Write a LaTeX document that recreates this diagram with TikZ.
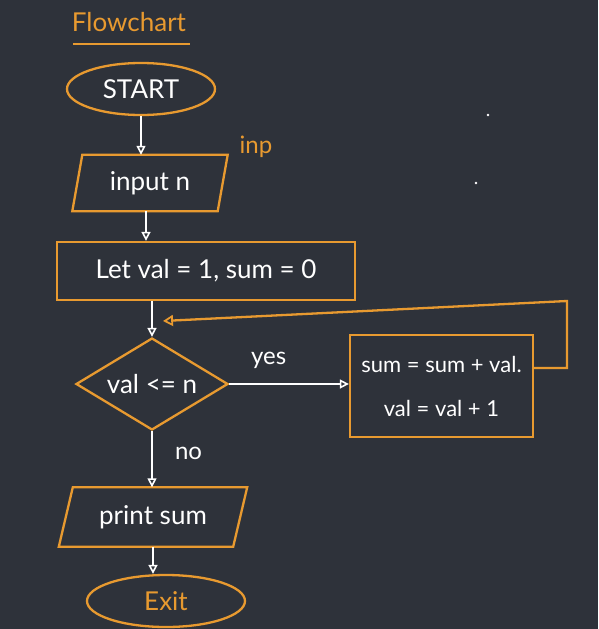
\documentclass[tikz,border=0pt]{standalone}
\usepackage{fontspec}
\setmainfont{Lato}
\usetikzlibrary{shapes.geometric,arrows.meta,calc}
\definecolor{bg}{HTML}{2E323A}
\definecolor{org}{HTML}{E89A30}
\tikzset{
  shp/.style={draw=org, line width=2.3pt, text=white, font=\fontsize{26}{30}\selectfont, inner sep=0pt},
  plain/.style={inner sep=0pt, text=white, font=\fontsize{26}{30}\selectfont},
  conn/.style={draw=white, line width=2pt, -{Triangle[open,length=9pt,width=9pt,line width=1.6pt]}},
  loopconn/.style={draw=org, line width=2.3pt, -{Triangle[open,length=10pt,width=11pt,line width=1.8pt]}},
  lbl/.style={text=white, font=\fontsize{24}{28}\selectfont, inner sep=0pt},
}
\begin{document}
\begin{tikzpicture}[x=1pt,y=-1pt]
\fill[bg] (0,0) rectangle (598,629);
\useasboundingbox (0,0) rectangle (598,629);
% title
\node[text=org, font=\fontsize{26}{30}\selectfont, inner sep=0pt] (title) at (129,22) {Flowchart};
\draw[org, line width=2pt] (73,44) -- (190,44);
% stray dots
\fill[white] (488,115) circle (1.3);
\fill[white] (476,183) circle (1.3);
% nodes
\node[shp, ellipse, minimum width=148, minimum height=52] (start) at (141,89) {START};
\node[plain, minimum width=145, minimum height=56] (inp) at (150,183) {input n};
\draw[org, line width=2.3pt] ($(inp.south west)+(-5,0)$) -- ($(inp.north west)+(5,0)$) -- ($(inp.north east)+(5,0)$) -- ($(inp.south east)+(-5,0)$) -- cycle;
\node[text=org, font=\fontsize{24}{28}\selectfont, inner sep=0pt] (inplbl) at (256,147) {inp};
\node[shp, rectangle, minimum width=298, minimum height=58] (let) at (206,271) {Let val = 1, sum = 0};
\node[shp, diamond, aspect=1.6, minimum width=152, minimum height=92] (dia) at (152,384) {val <= n};
\node[shp, rectangle, minimum width=183, minimum height=102, align=center, font=\fontsize{22}{26}\selectfont] (box) at (441.5,386) {sum = sum + val.\\[18pt]val = val + 1};
\node[plain, minimum width=174, minimum height=59] (prt) at (153,517) {print sum};
\draw[org, line width=2.3pt] ($(prt.south west)+(-7,0)$) -- ($(prt.north west)+(7,0)$) -- ($(prt.north east)+(7,0)$) -- ($(prt.south east)+(-7,0)$) -- cycle;
\node[shp, ellipse, minimum width=158, minimum height=52, text=org] (exit) at (166,601) {Exit};
% connectors
\draw[conn] (start.south) -- (start.south |- inp.north);
\draw[conn] ([xshift=-4]inp.south) -- ([xshift=-4]inp.south |- let.north);
\draw[conn] (dia.north |- let.south) -- (dia.north);
\draw[conn] (dia.east) -- (dia.east -| box.west) node[lbl, pos=0.33, above=14pt] (yes) {yes};
\draw[conn] (dia.south) -- (dia.south |- prt.north) node[lbl, pos=0.4, right=22pt] (no) {no};
\draw[conn] (prt.south) -- (prt.south |- exit.north);
\coordinate (lc) at (567,301);
\coordinate (le) at (163,321);
\draw[loopconn] ([yshift=18pt]box.east) -| (lc) -- (le);
\end{tikzpicture}
\end{document}
